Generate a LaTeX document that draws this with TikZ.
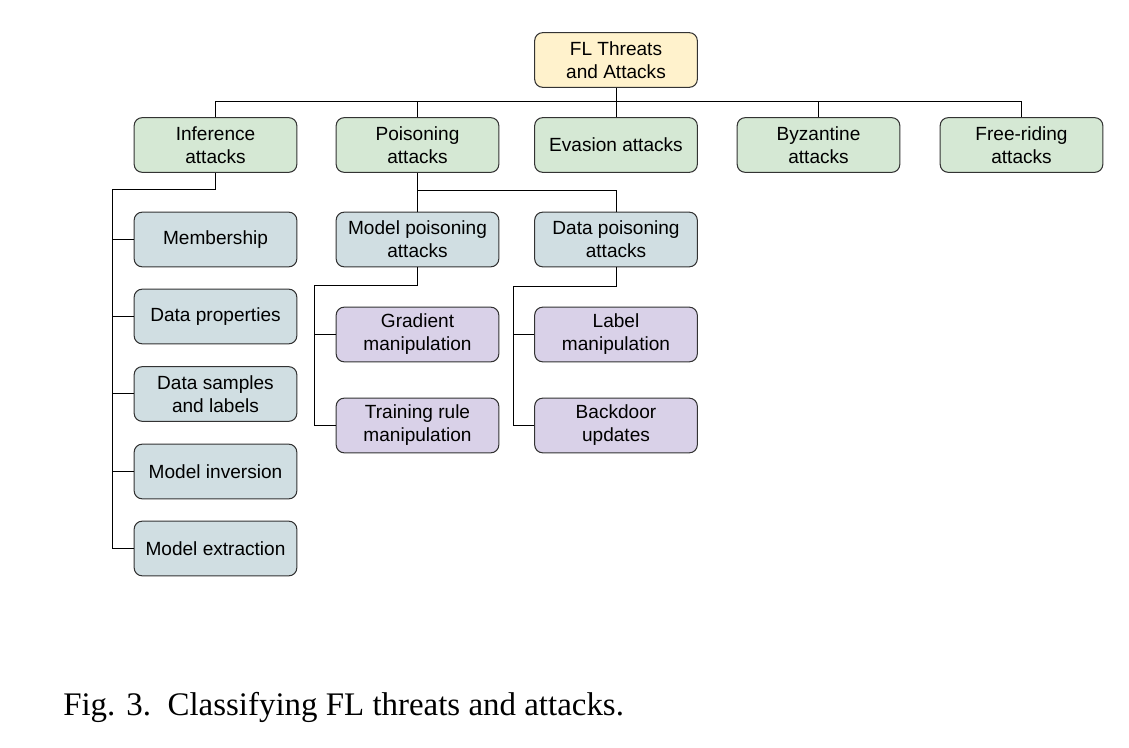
\documentclass[tikz,border=0pt]{standalone}
\usepackage{fontspec}
\setmainfont{Liberation Sans}
\newfontfamily\capfont{Liberation Serif}
\definecolor{rootfill}{HTML}{FFF2CC}
\definecolor{greenfill}{HTML}{D5E8D4}
\definecolor{bluefill}{HTML}{D0DEE2}
\definecolor{purplefill}{HTML}{D9D1E8}
\definecolor{edgegray}{HTML}{333333}
\begin{document}
\begin{tikzpicture}[x=0.75pt,y=-0.75pt,
  box/.style={draw=edgegray,line width=0.8pt,rounded corners=6pt,minimum width=122pt,minimum height=41pt,
    align=center,inner sep=1pt,font=\fontsize{14.3}{17.3}\selectfont},
  rootbox/.style={box,fill=rootfill},
  gbox/.style={box,fill=greenfill},
  bbox/.style={box,fill=bluefill},
  pbox/.style={box,fill=purplefill},
  link/.style={draw=black,line width=0.75pt}]
\useasboundingbox (0,0) rectangle (1129,748);
% nodes
\node[rootbox] (root) at (616,60) {FL Threats\\and Attacks};
\node[gbox] (inf) at (215.5,145) {Inference\\attacks};
\node[gbox] (pois) at (417.5,145) {Poisoning\\attacks};
\node[gbox] (eva) at (616,145) {Evasion attacks};
\node[gbox] (byz) at (818.5,145) {Byzantine\\attacks};
\node[gbox] (free) at (1021.5,145) {Free-riding\\attacks};
\node[bbox] (mem) at (215.5,239.5) {Membership};
\node[bbox] (dprop) at (215.5,316.5) {Data properties};
\node[bbox] (dsamp) at (215.5,394) {Data samples\\and labels};
\node[bbox] (minv) at (215.5,471.5) {Model inversion};
\node[bbox] (mext) at (215.5,548.5) {Model extraction};
\node[bbox] (mpois) at (417.5,239.5) {Model poisoning\\attacks};
\node[bbox] (dpois) at (616,239.5) {Data poisoning\\attacks};
\node[pbox] (grad) at (417.5,334.5) {Gradient\\manipulation};
\node[pbox] (train) at (417.5,425.5) {Training rule\\manipulation};
\node[pbox] (label) at (616,334.5) {Label\\manipulation};
\node[pbox] (back) at (616,425.5) {Backdoor\\updates};
% coordinates
\coordinate (bus) at (616,102);
\coordinate (ib) at (112,190);
\coordinate (pb) at (417.5,191);
\coordinate (mb) at (314,286);
\coordinate (db) at (513,287);
% connectors
\draw[link] (root.south) -- (bus);
\draw[link] (inf.north) |- (bus);
\draw[link] (pois.north) |- (bus);
\draw[link] (eva.north) -- (bus);
\draw[link] (byz.north) |- (bus);
\draw[link] (free.north) |- (bus);
\draw[link] (inf.south) |- (ib);
\draw[link] (ib) |- (mem.west);
\draw[link] (ib) |- (dprop.west);
\draw[link] (ib) |- (dsamp.west);
\draw[link] (ib) |- (minv.west);
\draw[link] (ib) |- (mext.west);
\draw[link] (pois.south) -- (pb);
\draw[link] (pb) -- (mpois.north);
\draw[link] (pb) -| (dpois.north);
\draw[link] (mpois.south) |- (mb);
\draw[link] (mb) |- (grad.west);
\draw[link] (mb) |- (train.west);
\draw[link] (dpois.south) |- (db);
\draw[link] (db) |- (label.west);
\draw[link] (db) |- (back.west);
% caption
\node[anchor=base west,inner sep=0pt,font=\capfont\fontsize{24.7}{30}\selectfont] (cap) at (63,715) {Fig. 3.\ \ Classifying FL threats and attacks.};
\end{tikzpicture}
\end{document}
